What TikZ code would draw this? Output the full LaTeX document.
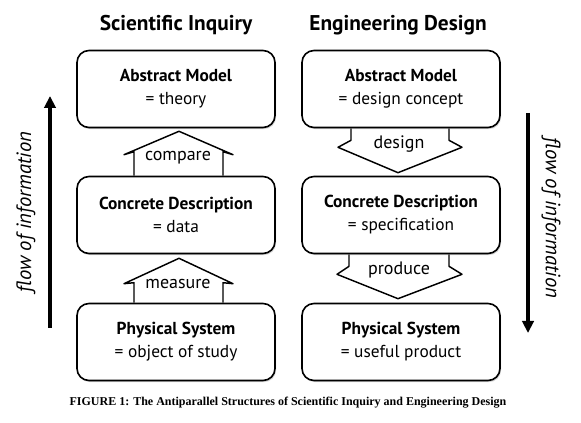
\documentclass[tikz,border=0pt]{standalone}
\usepackage{fontspec}
\setmainfont{PT Sans}
\newfontfamily\captionfont{Liberation Serif}
\usetikzlibrary{calc,shadows,backgrounds,arrows.meta}

\tikzset{model box/.style={draw,line width=1.2pt,rounded corners=9pt,fill=white,minimum width=148.5pt,minimum height=57.75pt,align=center,font=\fontsize{13}{17.25}\selectfont,drop shadow={shadow xshift=0.8pt,shadow yshift=-1.2pt,opacity=0.35}},
column title/.style={font=\fontsize{16}{19}\selectfont\bfseries},
block arrow/.style={draw,line width=1.1pt,fill=white,line join=round},
arrow label/.style={font=\fontsize{13.5}{15}\selectfont},
flow arrow/.style={line width=2.8pt,-{Triangle[length=9pt,width=8.5pt]}},
flow label/.style={font=\fontsize{15.5}{18}\selectfont\itshape},
figure caption/.style={font=\captionfont\fontsize{9}{11}\selectfont\bfseries}}

\begin{document}
\begin{tikzpicture}[x=0.75pt,y=-0.75pt]
\useasboundingbox (0,0) rectangle (581,423);

%% column titles
\node [column title] (t1) at (176,25) {Scientific Inquiry};
\node [column title] (t2) at (398,25) {Engineering Design};

%% boxes, scientific inquiry
\node [model box] (am1) at (176,89) {\textbf{Abstract Model}\\= theory};
\node [model box] (cd1) at (176,215) {\textbf{Concrete Description}\\= data};
\node [model box] (ps1) at (176,342) {\textbf{Physical System}\\= object of study};

%% boxes, engineering design
\node [model box] (am2) at (401,89) {\textbf{Abstract Model}\\= design concept};
\node [model box] (cd2) at (401,215) {\textbf{Concrete Description}\\= specification};
\node [model box] (ps2) at (401,342) {\textbf{Physical System}\\= useful product};

%% block arrows
\begin{scope}[on background layer]
\draw [block arrow] ($(cd1.north)+(-42,0)$) -- ++(0,-24) -- ++(-10,3) -- ($(am1.south)+(3,3)$) -- ($(cd1.north)+(57,-21)$) -- ++(-10,-3) -- ($(cd1.north)+(47,0)$);
\draw [block arrow] ($(ps1.north)+(-42,0)$) -- ++(0,-20) -- ++(-10,1) -- ($(cd1.south)+(3,4)$) -- ($(ps1.north)+(57,-19)$) -- ++(-10,-1) -- ($(ps1.north)+(47,0)$);
\draw [block arrow] ($(am2.south)+(-50,0)$) -- ++(0,12) -- ++(-13,7) -- ($(cd2.north)+(-3,-3)$) -- ($(am2.south)+(61,19)$) -- ++(-13,-7) -- ($(am2.south)+(48,0)$);
\draw [block arrow] ($(cd2.south)+(-52,0)$) -- ++(0,12) -- ++(-12,8) -- ($(ps2.north)+(-3,-4)$) -- ($(cd2.south)+(61,20)$) -- ++(-13,-8) -- ($(cd2.south)+(48,0)$);
\end{scope}

%% arrow labels
\node [arrow label] (l1) at (178,158) {compare};
\node [arrow label] (l2) at (178,284) {measure};
\node [arrow label] (l3) at (399,144) {design};
\node [arrow label] (l4) at (399,270) {produce};

%% flow of information
\coordinate (f1a) at (50,328);
\coordinate (f1b) at (50,96);
\coordinate (f2a) at (528,113);
\coordinate (f2b) at (528,333);
\draw [flow arrow] (f1a) -- (f1b);
\draw [flow arrow] (f2a) -- (f2b);
\node [flow label,rotate=90] (fl1) at (26,212) {flow of information};
\node [flow label,rotate=-90] (fl2) at (551,218) {flow of information};

%% caption
\node [figure caption] (cap) at (288,403) {FIGURE 1: The Antiparallel Structures of Scientific Inquiry and Engineering Design};

\end{tikzpicture}
\end{document}
